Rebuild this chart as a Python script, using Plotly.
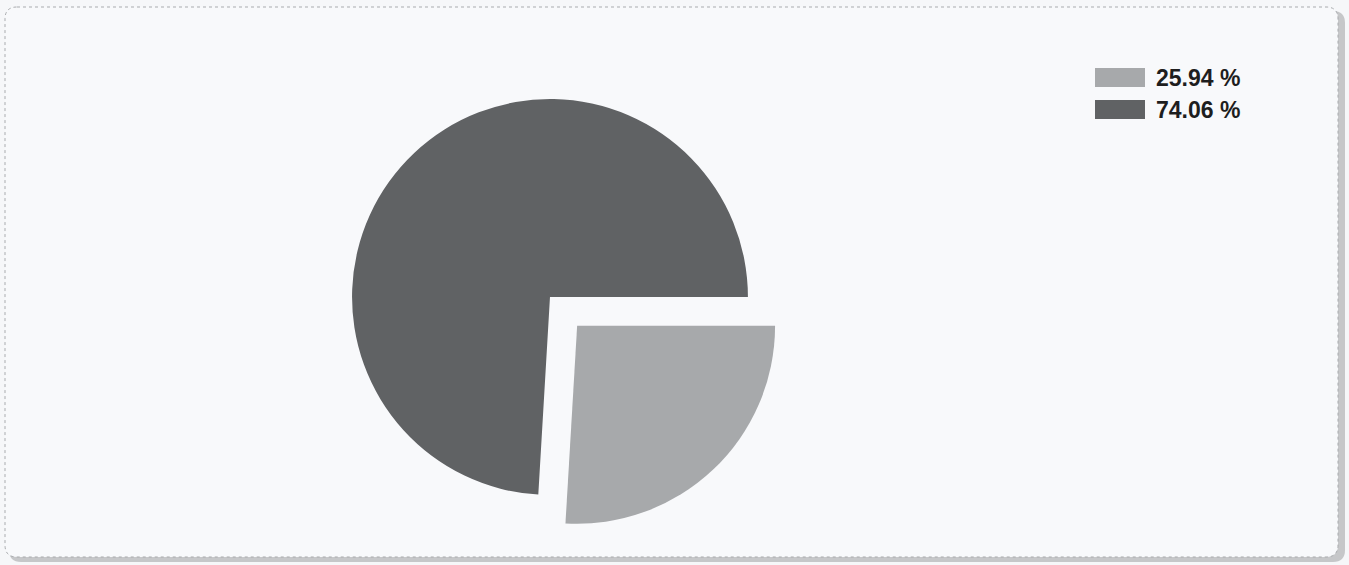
import plotly.graph_objects as go

# Data
labels = ["25.94 %", "74.06 %"]
values = [25.94, 74.06]
colors = ["#a7a9ab", "#606264"]
pulls = [0.2, 0.0]

W, H = 1349, 565

def px(x, y):
    return x / W, 1 - y / H

def rounded_rect(x0, y0, x1, y1, r):
    def P(x, y):
        fx, fy = px(x, y)
        return f"{fx:.5f},{fy:.5f}"
    d = (f"M {P(x0 + r, y0)} L {P(x1 - r, y0)} Q {P(x1, y0)} {P(x1, y0 + r)} "
         f"L {P(x1, y1 - r)} Q {P(x1, y1)} {P(x1 - r, y1)} "
         f"L {P(x0 + r, y1)} Q {P(x0, y1)} {P(x0, y1 - r)} "
         f"L {P(x0, y0 + r)} Q {P(x0, y0)} {P(x0 + r, y0)} Z")
    return d

fig = go.Figure()
fig.add_trace(go.Pie(
    labels=labels,
    values=values,
    marker=dict(colors=colors, line=dict(width=0)),
    pull=pulls,
    sort=False,
    direction="clockwise",
    rotation=90,
    textinfo="none",
    hoverinfo="label",
    showlegend=False,
    domain=dict(x=[0.2316, 0.5838], y=[0.0539, 0.8947]),
))

shapes = [
    dict(type="path", xref="paper", yref="paper", layer="below",
         path=rounded_rect(9, 11, 1345, 562, 12),
         fillcolor="#c6c7c9", line=dict(width=0)),
    dict(type="path", xref="paper", yref="paper", layer="below",
         path=rounded_rect(5, 7, 1338, 557, 12),
         fillcolor="#f8f9fb", line=dict(color="#a9abae", width=1, dash="dot")),
]

# custom legend (large swatches like the reference)
annotations = []
leg_top = [68, 100]
for i, lab in enumerate(labels):
    y0 = leg_top[i]
    fx0, fy0 = px(1095, y0)
    fx1, fy1 = px(1145, y0 + 19)
    shapes.append(dict(type="rect", xref="paper", yref="paper",
                       x0=fx0, x1=fx1, y0=fy1, y1=fy0,
                       fillcolor=colors[i], line=dict(width=0)))
    tx, ty = px(1154, y0 + 10)
    annotations.append(dict(xref="paper", yref="paper", x=tx, y=ty,
                            xanchor="left", yanchor="middle", showarrow=False,
                            text=lab,
                            font=dict(family="Liberation Sans, Arial, sans-serif",
                                      size=23, color="#1e1e1e", weight="bold")))

fig.update_layout(
    width=W, height=H,
    margin=dict(l=0, r=0, t=0, b=0),
    paper_bgcolor="#f6f7f9",
    plot_bgcolor="#f6f7f9",
    shapes=shapes,
    annotations=annotations,
    showlegend=False,
)

fig.write_html("out.html",
               config={"displayModeBar": False},
               post_script="document.body.style.margin='0';document.body.style.overflow='hidden';")
